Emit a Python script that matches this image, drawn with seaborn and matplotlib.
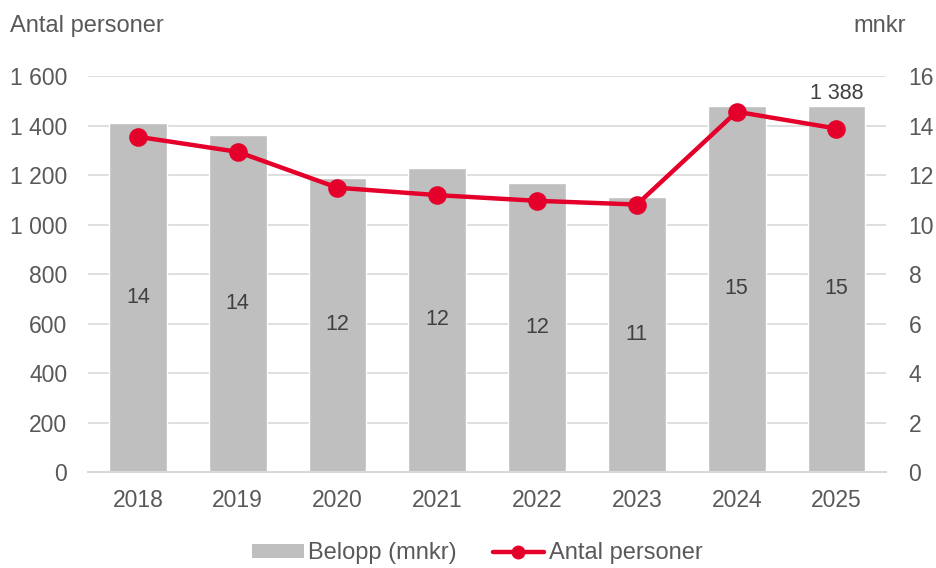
import pandas as pd
import seaborn as sns
import matplotlib.pyplot as plt
from matplotlib.ticker import FuncFormatter
from matplotlib.patches import Patch
from matplotlib.lines import Line2D

# Chart data
years = ["2018", "2019", "2020", "2021", "2022", "2023", "2024", "2025"]
belopp = [14.1, 13.6, 11.9, 12.3, 11.7, 11.1, 14.8, 14.8]   # mnkr, right axis
belopp_labels = ["14", "14", "12", "12", "12", "11", "15", "15"]
personer = [1355, 1294, 1149, 1119, 1096, 1081, 1456, 1388]  # left axis

df = pd.DataFrame({"year": years, "belopp": belopp, "personer": personer})

sns.set_theme(style="white")
plt.rcParams["font.family"] = ["Liberation Sans", "DejaVu Sans"]

text_color = "#595959"
bar_color = "#BFBFBF"
line_color = "#E4002B"
grid_color = "#D9D9D9"

fig = plt.figure(figsize=(9.36, 5.68), dpi=100)
ax = fig.add_axes([0.094, 0.169, 0.853, 0.697])
ax2 = ax.twinx()

# Bars on the right axis (mnkr)
sns.barplot(data=df, x="year", y="belopp", ax=ax2, color=bar_color,
            saturation=1, width=0.58, errorbar=None)
ax2.bar_label(ax2.containers[0], labels=belopp_labels, label_type="center",
              fontsize=15.5, color="#404040")

# Line on the left axis (Antal personer)
sns.pointplot(data=df, x="year", y="personer", ax=ax, color=line_color,
              markersize=11, linewidth=3.2, errorbar=None)
ax.annotate("1 388", xy=(7, personer[-1]), xytext=(0, 18), textcoords="offset points",
            ha="center", va="bottom", fontsize=15.5, color="#404040")

# Draw the line above the bars
ax.set_zorder(2)
ax2.set_zorder(1)
ax.patch.set_visible(False)

ax.set_ylim(0, 1600)
ax2.set_ylim(0, 16)
ax.set_yticks(range(0, 1601, 200))
ax2.set_yticks(range(0, 17, 2))
ax.yaxis.set_major_formatter(FuncFormatter(lambda v, p: f"{int(v):,}".replace(",", " ")))
ax.set_xlim(-0.5, 7.5)

ax2.grid(axis="y", color=grid_color, linewidth=1.2)
ax2.set_axisbelow(True)

for a in (ax, ax2):
    for s in a.spines.values():
        s.set_visible(False)
    a.set_xlabel("")
    a.set_ylabel("")
    a.tick_params(length=0, labelsize=16.5, labelcolor=text_color)
ax.tick_params(axis="y", pad=15)
ax2.tick_params(axis="y", pad=16)
ax.tick_params(axis="x", pad=12)
ax.spines["bottom"].set_visible(True)
ax.spines["bottom"].set_color(grid_color)
ax.spines["bottom"].set_linewidth(1.5)

fig.text(0.011, 0.955, "Antal personer", fontsize=17, color=text_color, va="center")
fig.text(0.968, 0.955, "mnkr", fontsize=17, color=text_color, va="center", ha="right")

handles = [Patch(facecolor=bar_color, edgecolor="none"),
           Line2D([0], [0], color=line_color, linewidth=3.2, marker="o", markersize=9)]
fig.legend(handles, ["Belopp (mnkr)", "Antal personer"], loc="center",
           bbox_to_anchor=(0.51, 0.026), ncol=2, frameon=False, fontsize=17,
           labelcolor=text_color, handlelength=2.2, handleheight=0.5,
           handletextpad=0.2, columnspacing=1.5)

fig.savefig("out.png", dpi=100)
